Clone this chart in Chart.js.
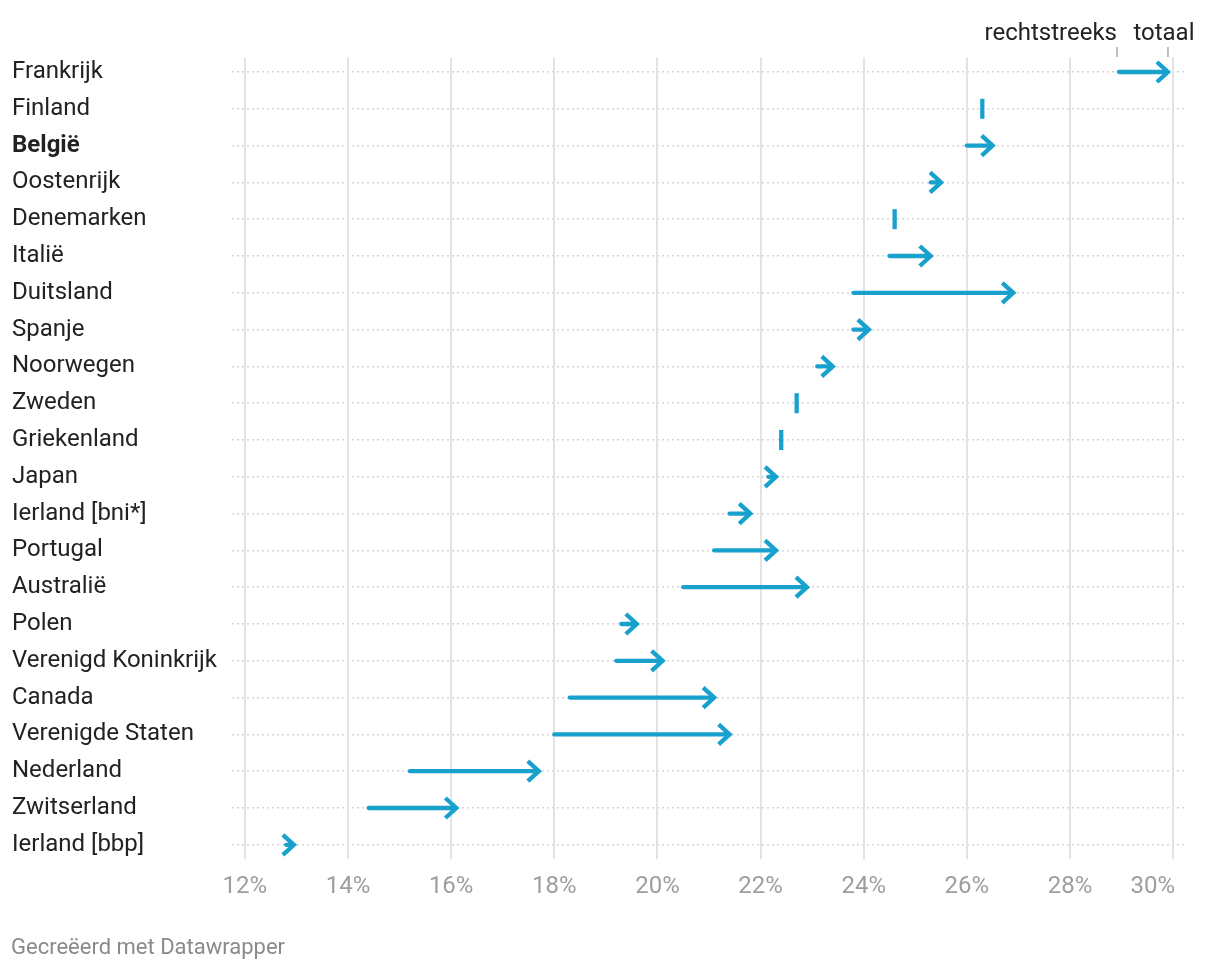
<!DOCTYPE html>
<html><head><meta charset="utf-8">
<script src="https://cdn.jsdelivr.net/npm/chart.js@4"></script>
<style>html,body{margin:0;background:#fff}#wrap{position:relative;width:1220px;height:972px}</style>
</head><body><div id="wrap"><canvas id="c"></canvas></div>
<script>
const categories = ['Frankrijk','Finland','België','Oostenrijk','Denemarken','Italië','Duitsland','Spanje','Noorwegen','Zweden','Griekenland','Japan','Ierland [bni*]','Portugal','Australië','Polen','Verenigd Koninkrijk','Canada','Verenigde Staten','Nederland','Zwitserland','Ierland [bbp]'];
const rechtstreeks = [28.95, 26.3, 26.0, 25.3, 24.6, 24.5, 23.8, 23.8, 23.1, 22.7, 22.4, 22.15, 21.4, 21.1, 20.5, 19.3, 19.2, 18.3, 18.0, 15.2, 14.4, 12.8];
const totaal       = [29.9, 26.3, 26.5, 25.5, 24.6, 25.3, 26.9, 24.1, 23.4, 22.7, 22.4, 22.3, 21.8, 22.3, 22.9, 19.6, 20.1, 21.1, 21.4, 17.7, 16.1, 12.95];
const xTickValues = [12, 14, 16, 18, 20, 22, 24, 26, 28, 30];
const legendLabels = ['rechtstreeks', 'totaal'];
const highlight = 'België';
const footerText = 'Gecreëerd met Datawrapper';

const BLUE = '#18a1cd';
const FONT = 'Roboto';

const arrowPlugin = {
  id: 'arrows',
  beforeDatasetsDraw(chart) {
    const {ctx, scales: {x}} = chart;
    ctx.save();
    ctx.strokeStyle = '#e3e3e3';
    ctx.lineWidth = 2;
    xTickValues.forEach(v => {
      const px = Math.round(x.getPixelForValue(v));
      ctx.beginPath();
      ctx.moveTo(px, chart.chartArea.top + 4);
      ctx.lineTo(px, chart.chartArea.bottom - 4);
      ctx.stroke();
    });
    // x tick labels (last one kept inside the chart, as in the original)
    ctx.fillStyle = '#9e9e9e';
    ctx.font = '24px ' + FONT;
    ctx.textBaseline = 'middle';
    xTickValues.forEach((v, i) => {
      const px = x.getPixelForValue(v);
      const last = i === xTickValues.length - 1;
      ctx.textAlign = last ? 'right' : 'center';
      ctx.fillText(v + '%', last ? px + 2 : px, chart.chartArea.bottom + 24);
    });
    ctx.restore();
  },
  afterDatasetsDraw(chart) {
    const {ctx, scales: {x, y}} = chart;
    ctx.save();
    ctx.strokeStyle = BLUE;
    ctx.lineWidth = 4.3;
    categories.forEach((c, i) => {
      const yy = y.getPixelForValue(i);
      const x0 = x.getPixelForValue(rechtstreeks[i]);
      const x1 = x.getPixelForValue(totaal[i]);
      if (Math.abs(x1 - x0) < 1) {
        ctx.lineCap = 'butt';
        ctx.beginPath();
        ctx.moveTo(x0, yy - 10);
        ctx.lineTo(x0, yy + 10);
        ctx.stroke();
        return;
      }
      ctx.lineCap = 'round';
      ctx.lineJoin = 'miter';
      ctx.beginPath();
      ctx.moveTo(x0, yy);
      ctx.lineTo(x1 - 2, yy);
      ctx.stroke();
      ctx.lineCap = 'butt';
      ctx.beginPath();
      ctx.moveTo(x1 - 11, yy - 10);
      ctx.lineTo(x1, yy);
      ctx.lineTo(x1 - 11, yy + 10);
      ctx.stroke();
    });
    // legend
    const y0 = y.getPixelForValue(0);
    const ls = x.getPixelForValue(rechtstreeks[0]);
    const le = x.getPixelForValue(totaal[0]);
    ctx.strokeStyle = '#aaaaaa';
    ctx.lineWidth = 1.5;
    [ls - 2, le].forEach(px => {
      ctx.beginPath();
      ctx.moveTo(px, y0 - 25);
      ctx.lineTo(px, y0 - 15);
      ctx.stroke();
    });
    ctx.fillStyle = '#222';
    ctx.font = '24px ' + FONT;
    ctx.textBaseline = 'middle';
    ctx.textAlign = 'right';
    ctx.fillText(legendLabels[0], ls - 2, y0 - 38);
    ctx.textAlign = 'center';
    ctx.fillText(legendLabels[1], le - 4, y0 - 38);
    // footer
    ctx.fillStyle = '#8a8a8a';
    ctx.font = '22px ' + FONT;
    ctx.textAlign = 'left';
    ctx.fillText(footerText, 11, 948);
    ctx.restore();
  }
};

new Chart(document.getElementById('c'), {
  type: 'bar',
  data: {
    labels: categories,
    datasets: [{
      data: categories.map((c, i) => [rechtstreeks[i], totaal[i]]),
      backgroundColor: 'rgba(0,0,0,0)',
      borderWidth: 0
    }]
  },
  options: {
    indexAxis: 'y',
    responsive: true,
    maintainAspectRatio: false,
    animation: false,
    layout: {padding: {left: 12, right: 34, top: 53.6, bottom: 58.8}},
    plugins: {legend: {display: false}, tooltip: {enabled: false}},
    scales: {
      x: {
        type: 'linear',
        min: 11.75,
        max: 30.25,
        afterBuildTicks: s => { s.ticks = xTickValues.map(v => ({value: v})); },
        afterFit: s => { s.height = 50; },
        grid: {display: false, drawTicks: false},
        border: {display: false},
        ticks: {display: false}
      },
      y: {
        type: 'category',
        offset: true,
        afterFit: s => { s.width = 220; },
        grid: {offset: false, color: '#d6d6d6', lineWidth: 1.5, drawTicks: false},
        border: {display: false, dash: [2, 3]},
        ticks: {
          crossAlign: 'far',
          padding: 0,
          color: '#222',
          autoSkip: false,
          font: ctx => ({family: FONT, size: 24, weight: (ctx.tick && ctx.tick.label === highlight) ? 'bold' : 'normal'})
        }
      }
    }
  },
  plugins: [arrowPlugin]
});
</script></body></html>
